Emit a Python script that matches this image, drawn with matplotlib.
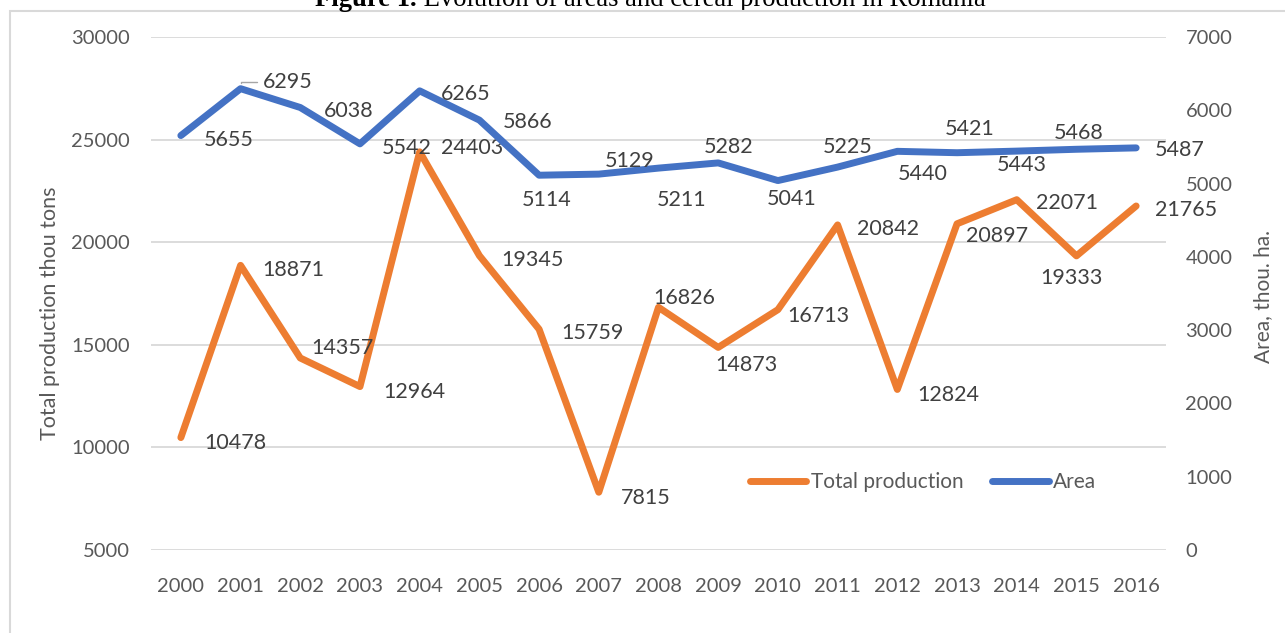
import matplotlib
matplotlib.use("Agg")
import matplotlib.pyplot as plt
from matplotlib.patches import Rectangle

plt.rcParams['font.family'] = ['Lato', 'DejaVu Sans']

# ==================== data ====================
years = [2000, 2001, 2002, 2003, 2004, 2005, 2006, 2007, 2008,
         2009, 2010, 2011, 2012, 2013, 2014, 2015, 2016]
production = [10478, 18871, 14357, 12964, 24403, 19345, 15759, 7815, 16826,
              14873, 16713, 20842, 12824, 20897, 22071, 19333, 21765]
area = [5655, 6295, 6038, 5542, 6265, 5866, 5114, 5129, 5211,
        5282, 5041, 5225, 5440, 5421, 5443, 5468, 5487]

# label offsets (pixels, x right / y down) as placed in the original
prod_off = [(55, 5), (53, 5), (42, -10), (54, 5), (52, -4), (53, 4), (53, 4), (47, 6), (26, -9),
            (28, 18), (40, 6), (50, 4), (51, 6), (40, 12), (50, 3), (-5, 22), (50, 4)]
area_off = [(48, 4), (47, -7), (48, 3), (47, 4), (46, 3), (48, 2), (8, 25), (31, -13), (23, 32),
            (10, -16), (14, 18), (10, -20), (25, 23), (13, -24), (5, 14), (2, -16), (44, 2)]

ORANGE = '#ED7D31'
BLUE = '#4472C4'
GRID = '#D9D9D9'
TXT = '#595959'
LBL = '#404040'

W, H = 1285, 633
fig = plt.figure(figsize=(W / 100, H / 100), dpi=100)

# chart border (only left and top edges fall inside the crop)
fig.patches.append(Rectangle((10 / W, -0.05), 1.2, 1 - 11 / H + 0.05,
                             transform=fig.transFigure, fill=False,
                             edgecolor=GRID, linewidth=1.5))

ax = fig.add_axes([151 / W, 83 / H, 1015 / W, 513 / H])
ax2 = ax.twinx()

x = list(range(len(years)))

ax.set_ylim(5000, 30000)
ax.set_yticks(range(5000, 30001, 5000))
ax.set_xlim(-0.5, len(years) - 0.5)
ax.set_xticks(x)
ax.set_xticklabels([str(y) for y in years])
ax.grid(axis='y', color=GRID, linewidth=1.3)
ax.set_axisbelow(True)

ax2.set_ylim(0, 7000)
ax2.set_yticks(range(0, 7001, 1000))

for a in (ax, ax2):
    for s in a.spines.values():
        s.set_visible(False)
    a.tick_params(length=0, labelsize=14.5, colors=TXT)
ax.tick_params(axis='y', pad=15)
ax.tick_params(axis='x', pad=20)
ax2.tick_params(axis='y', pad=14)

ax.set_ylabel('Total production thou tons', fontsize=15.5, color=TXT)
ax.yaxis.set_label_coords(-0.09, 0.462)
ax2.set_ylabel('Area, thou. ha.', fontsize=15, color=TXT)
ax2.yaxis.set_label_coords(1.086, 0.495)

ax2.plot(x, area, color=BLUE, linewidth=5, solid_capstyle='round',
         solid_joinstyle='round', zorder=3)
ax.plot(x, production, color=ORANGE, linewidth=5, solid_capstyle='round',
        solid_joinstyle='round', zorder=3)

# production labels
for i, v in enumerate(production):
    dx, dy = prod_off[i]
    ax.annotate(str(v), (x[i], v), xytext=(dx, -dy), textcoords='offset pixels',
                ha='center', va='center', fontsize=15.5, color=LBL, zorder=5)

# area labels
for i, v in enumerate(area):
    dx, dy = area_off[i]
    kw = {}
    if i == 1:
        kw['arrowprops'] = dict(arrowstyle='-', color='#A6A6A6', linewidth=1,
                                connectionstyle='angle,angleA=0,angleB=90,rad=0',
                                shrinkA=2, shrinkB=4, relpos=(0, 0.5))
    ax2.annotate(str(v), (x[i], v), xytext=(dx, -dy), textcoords='offset pixels',
                 ha='center', va='center', fontsize=15.5, color=LBL, zorder=5, **kw)

handles = [plt.Line2D([], [], color=ORANGE, linewidth=5, solid_capstyle='round'),
           plt.Line2D([], [], color=BLUE, linewidth=5, solid_capstyle='round')]
ax2.legend(handles, ['Total production', 'Area'], loc='center',
           bbox_to_anchor=(0.7606, 0.1326), ncol=2, frameon=False,
           fontsize=15, handlelength=2.7, handletextpad=0.2, columnspacing=1.4,
           labelcolor=TXT)

# title (cut at the top as in the source page)
t1 = fig.text(315 / W, 1 - 6 / H, 'Figure 1.', fontsize=19.2, fontweight='bold',
              family='Liberation Serif', va='baseline', ha='left')
ax.annotate(' Evolution of areas and cereal production in Romania', xy=(1, 0),
            xycoords=t1, va='bottom', ha='left', fontsize=19.2,
            family='Liberation Serif', annotation_clip=False)

fig.savefig('out.png', dpi=100)
